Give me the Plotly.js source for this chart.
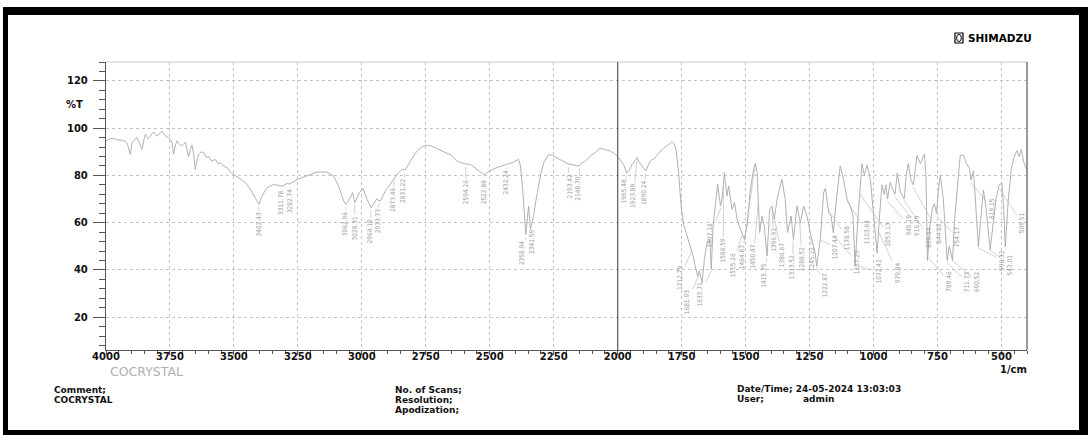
<!DOCTYPE html>
<html><head><meta charset="utf-8">
<script src="https://cdn.plot.ly/plotly-3.0.1.min.js"></script>
<style>
html,body{margin:0;padding:0;background:#fff;}
#wrap{position:relative;width:1088px;height:435px;overflow:hidden;background:#fff;}
#chart{position:absolute;left:0;top:0;width:1088px;height:435px;}
.bar{position:absolute;background:#000;}
</style></head><body>
<div id="wrap">
<div id="chart"></div>
<div class="bar" style="left:3px;top:7px;width:1085px;height:8px"></div>
<div class="bar" style="left:3px;top:7px;width:5px;height:428px"></div>
<div class="bar" style="left:1079px;top:7px;width:9px;height:428px"></div>
<div class="bar" style="left:3px;top:430px;width:1085px;height:5px"></div>
</div>
<script>
// ---- spectrum data (wavenumber 1/cm, %T) ----
const wavenumber = [
4000,3985,3970,3955,3937,3925,3916,3905,3898,3888,3879,3870,3859,3852,3846,3835,3825,3814,3801,3790,
3781,3770,3762,3749,3742,3736,3728,3722,3712,3703,3690,3677,3670,3664,3657,3651,3645,3638,3628,3618,
3608,3599,3586,3573,3563,3553,3540,3527,3510,3497,3475,3462,3448,3436,3425,3416,3402,3390,3371,3345,
3319,3311,3292,3282,3253,3214,3175,3136,3110,3091,3071,3063,3048,3036,3028,3009,2995,2980,2964,2951,
2941,2933,2925,2908,2889,2873,2856,2840,2831,2810,2790,2770,2750,2730,2710,2690,2670,2650,2628,2610,
2594,2576,2555,2540,2523,2505,2490,2472,2450,2432,2410,2387,2380,2372,2366,2359,2353,2348,2345,2341,
2335,2329,2320,2309,2300,2289,2270,2255,2237,2218,2200,2193,2175,2160,2149,2140,2126,2105,2081,2068,
2050,2029,2015,2002,1990,1977,1965,1955,1945,1938,1924,1915,1905,1890,1882,1872,1853,1833,1820,1807,
1795,1788,1779,1771,1762,1752,1742,1733,1723,1713,1703,1697,1687,1681,1675,1670,1661,1651,1640,1634,
1627,1618,1609,1598,1592,1583,1573,1566,1553,1543,1533,1520,1505,1494,1481,1471,1462,1455,1445,1436,
1427,1416,1406,1397,1388,1377,1366,1358,1345,1336,1322,1313,1299,1286,1273,1260,1247,1234,1228,1222,
1208,1195,1188,1175,1166,1157,1145,1130,1117,1103,1091,1080,1072,1059,1045,1036,1025,1012,1001,986,
977,967,958,952,945,935,926,916,907,895,880,872,864,854,844,830,817,801,795,789,
780,770,762,754,745,739,727,712,704,691,684,672,661,648,637,625,619,609,598,590,
578,570,559,551,544,532,521,509,498,491,485,473,461,450,439,431,422,414,407,400
];
const transmittance = [
94.6,95.5,95.7,95.0,94.9,94.5,93.2,88.9,94.0,95.0,96.0,94.0,91.0,95.0,97.4,95.5,97.0,98.4,96.6,98.0,
98.8,97.0,96.4,95.3,94.0,89.0,93.0,94.6,93.0,92.5,94.0,88.0,91.0,92.8,89.0,82.6,86.0,88.8,90.0,89.6,
87.5,88.0,86.0,86.8,85.0,85.3,84.0,83.3,81.0,80.2,78.5,77.6,76.0,74.1,72.0,70.6,67.8,71.3,74.8,76.2,
75.8,75.4,76.6,76.3,78.3,80.0,81.4,81.4,79.7,75.5,69.2,67.7,70.0,72.7,68.5,72.7,74.4,69.9,66.4,68.5,
70.2,69.2,69.5,73.4,76.2,79.0,81.3,82.6,82.3,86.1,89.5,91.8,92.8,92.5,91.5,90.5,89.5,88.5,86.0,85.5,
84.8,84.7,83.0,81.5,80.3,81.5,82.5,83.3,84.0,84.7,85.5,86.8,84.0,75.0,66.0,55.0,62.0,67.0,63.0,57.2,
60.0,62.8,69.0,75.5,81.0,85.4,88.9,88.5,87.5,86.5,85.4,84.8,84.5,84.0,84.2,85.3,86.1,88.3,90.3,91.5,
91.0,90.3,89.3,88.2,86.5,84.7,81.0,82.0,84.5,85.4,87.5,85.5,84.0,81.9,84.0,86.1,87.5,90.3,91.5,92.5,
93.5,94.2,93.5,90.3,81.2,67.0,59.3,56.0,52.9,48.7,45.0,41.6,37.4,39.7,36.0,34.6,44.4,51.5,53.0,40.2,
58.6,67.0,76.2,67.0,70.0,81.2,71.3,75.5,65.6,68.5,61.4,57.2,52.9,59.0,74.1,81.2,85.1,81.2,55.8,62.8,
58.6,45.9,65.6,67.0,61.4,69.9,75.0,78.3,69.9,55.8,62.8,52.9,67.0,59.9,67.0,62.8,55.8,50.1,47.0,41.6,
52.9,72.7,74.5,64.2,62.8,55.8,70.0,84.0,78.3,69.9,67.0,62.8,42.0,65.0,85.0,80.0,84.5,78.0,65.0,47.0,
62.0,76.0,72.0,76.0,70.0,77.0,74.5,72.0,81.0,73.0,70.0,80.0,85.0,78.0,76.0,88.5,85.0,89.0,80.0,44.0,
58.0,66.0,68.0,64.0,75.0,80.0,70.0,44.0,50.0,44.0,60.0,75.0,88.5,88.6,85.0,83.0,78.0,82.0,65.0,49.8,
65.0,73.8,65.0,55.0,48.4,60.0,70.0,76.0,76.7,65.0,49.8,70.0,83.0,88.0,90.5,88.0,91.0,86.0,83.7,82.0
];
// ---- peak labels (text values) ----
const peakLabels = ["3402.43","3311.78","3282.74","3062.96","3028.31","2964.19","2933.73","2873.46","2831.22",
"2594.26","2522.88","2432.24","2358.94","2341.59","2193.42","2148.70","1965.48","1923.89","1890.24",
"1712.79","1681.93","1633.71","1597.16","1586.59","1515.26","1464.83","1450.47","1415.75","1396.92",
"1386.67","1313.52","1288.52","1245.22","1222.87","1207.44","1178.58","1157.29","1103.64","1072.42",
"1053.13","979.84","945.19","916.79","879.54","844.82","789.46","754.17","711.73","690.52",
"619.15","590.32","543.01","509.51"];
// ---- label placement (axis units, layout only) ----
const labelX = [3400,3316,3280,3065,3025,2967,2936,2878,2839,2592,2521,2435,2374,2335,2185,2153,1977,1940,1898,
1759,1728,1677,1638,1587,1548,1514,1469,1429,1390,1357,1318,1279,1240,1188,1149,1103,1064,1025,980,
941,906,863,830,784,745,706,673,634,595,537,498,465,419];
const labelY = [59.0,68.3,69.2,59.4,57.7,56.4,60.7,69.6,73.4,73.0,73.0,77.2,47.1,51.8,75.5,74.2,73.0,71.3,72.5,
36.7,26.4,29.7,54.7,48.4,42.0,45.4,45.4,37.4,52.6,46.3,41.2,44.6,44.6,33.6,49.7,53.5,43.3,56.0,39.2,
54.7,38.8,59.0,59.0,53.9,55.6,35.3,53.9,34.8,34.8,66.2,44.2,42.0,59.8];

function interpT(w){
  for (let i=0;i<wavenumber.length-1;i++){
    const a=wavenumber[i], b=wavenumber[i+1];
    if (w<=a && w>=b){ const t=(a-w)/(a-b); return transmittance[i]+t*(transmittance[i+1]-transmittance[i]); }
  }
  return transmittance[transmittance.length-1];
}

const BOLD = {family:"DejaVu Sans, Arial, sans-serif", size:10, color:"#111", weight:"bold"};
const FOOT = {family:"DejaVu Sans, Arial, sans-serif", size:9, color:"#111", weight:"bold"};
const LAB = {family:"Liberation Sans Narrow, DejaVu Sans Condensed, Arial Narrow, sans-serif", size:6.5, color:"#9a9a9a"};

const annotations = [];
peakLabels.forEach((s,i)=>{
  const w=parseFloat(s);
  annotations.push({x:w, y:interpT(w)-1.2, xref:'x', yref:'y', ax:labelX[i], ay:labelY[i], axref:'x', ayref:'y',
    text:s, textangle:-90, showarrow:true, arrowhead:0, arrowwidth:0.6, arrowcolor:'#b4b4b4', standoff:0, font:LAB});
});
function txt(text,x,y,font,xanchor){ annotations.push({text:text,x:x,y:y,xref:'paper',yref:'paper',showarrow:false,xanchor:xanchor||'left',yanchor:'middle',font:font}); }
txt("%T",-0.0337,0.851,BOLD,'center');
txt("1/cm",0.985,-0.068,BOLD,'center');
txt("COCRYSTAL",0.0445,-0.073,{family:"DejaVu Sans, Arial, sans-serif",size:12.5,color:"#b0b0b0"},'center');
txt("Comment;",-0.0586,-0.139,FOOT);
txt("COCRYSTAL",-0.0586,-0.174,FOOT);
txt("No. of Scans;",0.3116,-0.139,FOOT);
txt("Resolution;",0.3116,-0.174,FOOT);
txt("Apodization;",0.3116,-0.208,FOOT);
txt("Date/Time; 24-05-2024 13:03:03",0.683,-0.135,FOOT);
txt("User;",0.683,-0.170,FOOT);
txt("admin",0.7546,-0.170,FOOT);
txt("SHIMADZU",0.9338,1.083,{family:"DejaVu Sans, Arial, sans-serif",size:10.5,color:"#000",weight:"bold"});

const shapes = [
  {type:'line',xref:'paper',yref:'paper',x0:0,x1:1,y0:1,y1:1,line:{color:'#c8c8c8',width:1}},
  {type:'line',xref:'paper',yref:'paper',x0:1,x1:1,y0:0,y1:1,line:{color:'#777',width:1.5}},
  {type:'line',xref:'x',yref:'paper',x0:2000,x1:2000,y0:0,y1:1,line:{color:'#666',width:1.3}},
  {type:'rect',xref:'paper',yref:'paper',x0:0.9218,x1:0.9305,y0:1.066,y1:1.1007,line:{color:'#000',width:1.2},fillcolor:'#fff'},
  {type:'circle',xref:'paper',yref:'paper',x0:0.9236,x1:0.9287,y0:1.071,y1:1.096,line:{color:'#000',width:1}}
];

const trace = {x:wavenumber, y:transmittance, type:'scatter', mode:'lines',
  line:{color:'#a8a8a8', width:0.9}, hoverinfo:'skip', showlegend:false};

const axisCommon = {showgrid:true, gridcolor:'#c4c4c4', griddash:'dot', gridwidth:1, zeroline:false,
  showline:true, linecolor:'#555', linewidth:1.2, ticks:'outside', tickcolor:'#555', tickfont:BOLD};

const layout = {
  width:1088, height:435, margin:{l:106, r:61, t:62, b:85},
  paper_bgcolor:'#fff', plot_bgcolor:'#fff', showlegend:false,
  xaxis:Object.assign({}, axisCommon, {range:[4000,400], tick0:0, dtick:250, ticklen:4, ticklabelstandoff:-7,
     minor:{dtick:50, ticklen:3, ticks:'outside', tickcolor:'#555', showgrid:false}}),
  yaxis:Object.assign({}, axisCommon, {range:[6.1,128], tick0:0, dtick:20, ticklen:12, ticklabelstandoff:3,
     minor:{dtick:4, ticklen:6, ticks:'outside', tickcolor:'#555', showgrid:false}}),
  annotations:annotations, shapes:shapes
};
Plotly.newPlot('chart',[trace],layout,{staticPlot:true, displayModeBar:false});
</script>
</body></html>
